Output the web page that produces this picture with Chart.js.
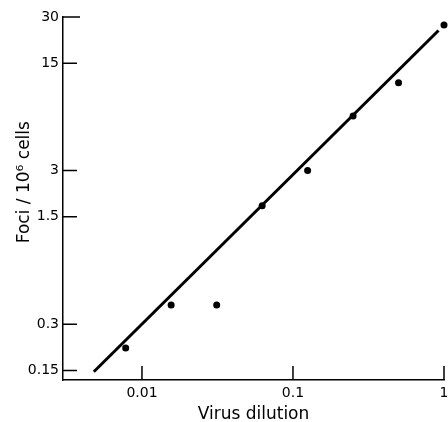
<!DOCTYPE html>
<html>
<head>
<meta charset="utf-8">
<script src="https://cdn.jsdelivr.net/npm/chart.js@4"></script>
<style>
  html, body { margin: 0; padding: 0; background: #fff; }
  #wrap { width: 448px; height: 422px; }
</style>
</head>
<body>
<div id="wrap"><canvas id="myChart" width="448" height="422"></canvas></div>
<script>
// measured points (virus dilution vs foci per 10^6 cells)
const dilution = [1, 0.5, 0.25, 0.125, 0.0625, 0.03125, 0.0156, 0.0078];
const foci = [26.6, 11.2, 6.8, 3.0, 1.77, 0.40, 0.40, 0.21];

// fitted line end points
const fitX = [0.0048, 0.92];
const fitY = [0.147, 24.5];

// tick labels
const xTickVals = [0.01, 0.1, 1];
const xTickLabels = ["0.01", "0.1", "1"];
const yTickVals = [0.15, 0.3, 1.5, 3, 15, 30];
const yTickLabels = ["0.15", "0.3", "1.5", "3", "15", "30"];

const yTitle = "Foci / 10\u2076 cells";

const canvas = document.getElementById("myChart");
const font = "'DejaVu Sans', sans-serif";

// tick marks drawn inside the plot, like the original figure
// + y axis title (sits a bit above the middle in the original)
const innerTicks = {
  id: "innerTicks",
  afterDraw(chart) {
    const ctx = chart.ctx;
    const x = chart.scales.x;
    const y = chart.scales.y;
    ctx.save();
    ctx.strokeStyle = "#000";
    ctx.lineWidth = 1.5;
    ctx.beginPath();
    xTickVals.forEach((v) => {
      const px = x.getPixelForValue(v);
      ctx.moveTo(px, y.bottom);
      ctx.lineTo(px, y.bottom - 14);
    });
    yTickVals.forEach((v, i) => {
      const py = y.getPixelForValue(v);
      const len = i == yTickVals.length - 1 ? 17 : 14;
      ctx.moveTo(x.left, py);
      ctx.lineTo(x.left + len, py);
    });
    ctx.stroke();

    const area = chart.chartArea;
    ctx.translate(25, area.top + (area.bottom - area.top) * 0.455);
    ctx.rotate(-Math.PI / 2);
    ctx.fillStyle = "#000";
    ctx.font = "17px " + font;
    ctx.textAlign = "center";
    ctx.textBaseline = "middle";
    ctx.fillText(yTitle, 0, 0);
    ctx.restore();
  },
};

new Chart(canvas, {
  type: "scatter",
  data: {
    datasets: [
      {
        label: "Foci",
        data: dilution.map((d, i) => ({ x: d, y: foci[i] })),
        pointRadius: 3.5,
        pointBackgroundColor: "#000",
        pointBorderWidth: 0,
        clip: false,
      },
      {
        label: "Fit",
        data: fitX.map((d, i) => ({ x: d, y: fitY[i] })),
        showLine: true,
        borderColor: "#000",
        borderWidth: 3,
        pointRadius: 0,
        clip: false,
      },
    ],
  },
  options: {
    responsive: false,
    animation: false,
    layout: { padding: { top: 17, right: -1, left: 0, bottom: -3 } },
    plugins: { legend: { display: false }, tooltip: { enabled: false } },
    scales: {
      x: {
        type: "logarithmic",
        min: 0.003,
        max: 1,
        afterBuildTicks: (scale) => { scale.ticks = xTickVals.map((v) => ({ value: v })); },
        afterFit: (scale) => {
          scale.height = 45;
          scale.paddingRight = 0;
          scale.paddingLeft = 0;
        },
        grid: { display: true, drawOnChartArea: false, drawTicks: false },
        border: { display: true, color: "#000", width: 1.5 },
        ticks: {
          color: "#000",
          font: { family: font, size: 14 },
          padding: 5,
          maxRotation: 0,
          callback: (v) => xTickLabels[xTickVals.indexOf(v)],
        },
        title: {
          display: true,
          text: "Virus dilution",
          color: "#000",
          font: { family: font, size: 17 },
          padding: { top: 0, bottom: 0 },
        },
      },
      y: {
        type: "logarithmic",
        min: 0.13,
        max: 30,
        afterBuildTicks: (scale) => { scale.ticks = yTickVals.map((v) => ({ value: v })); },
        afterFit: (scale) => {
          scale.width = 63;
          scale.paddingTop = 0;
          scale.paddingBottom = 0;
        },
        grid: { display: true, drawOnChartArea: false, drawTicks: false },
        border: { display: true, color: "#000", width: 1.5 },
        ticks: {
          color: "#000",
          font: { family: font, size: 14 },
          padding: 4,
          callback: (v) => yTickLabels[yTickVals.indexOf(v)],
        },
        title: { display: false },
      },
    },
  },
  plugins: [innerTicks],
});
</script>
</body>
</html>
